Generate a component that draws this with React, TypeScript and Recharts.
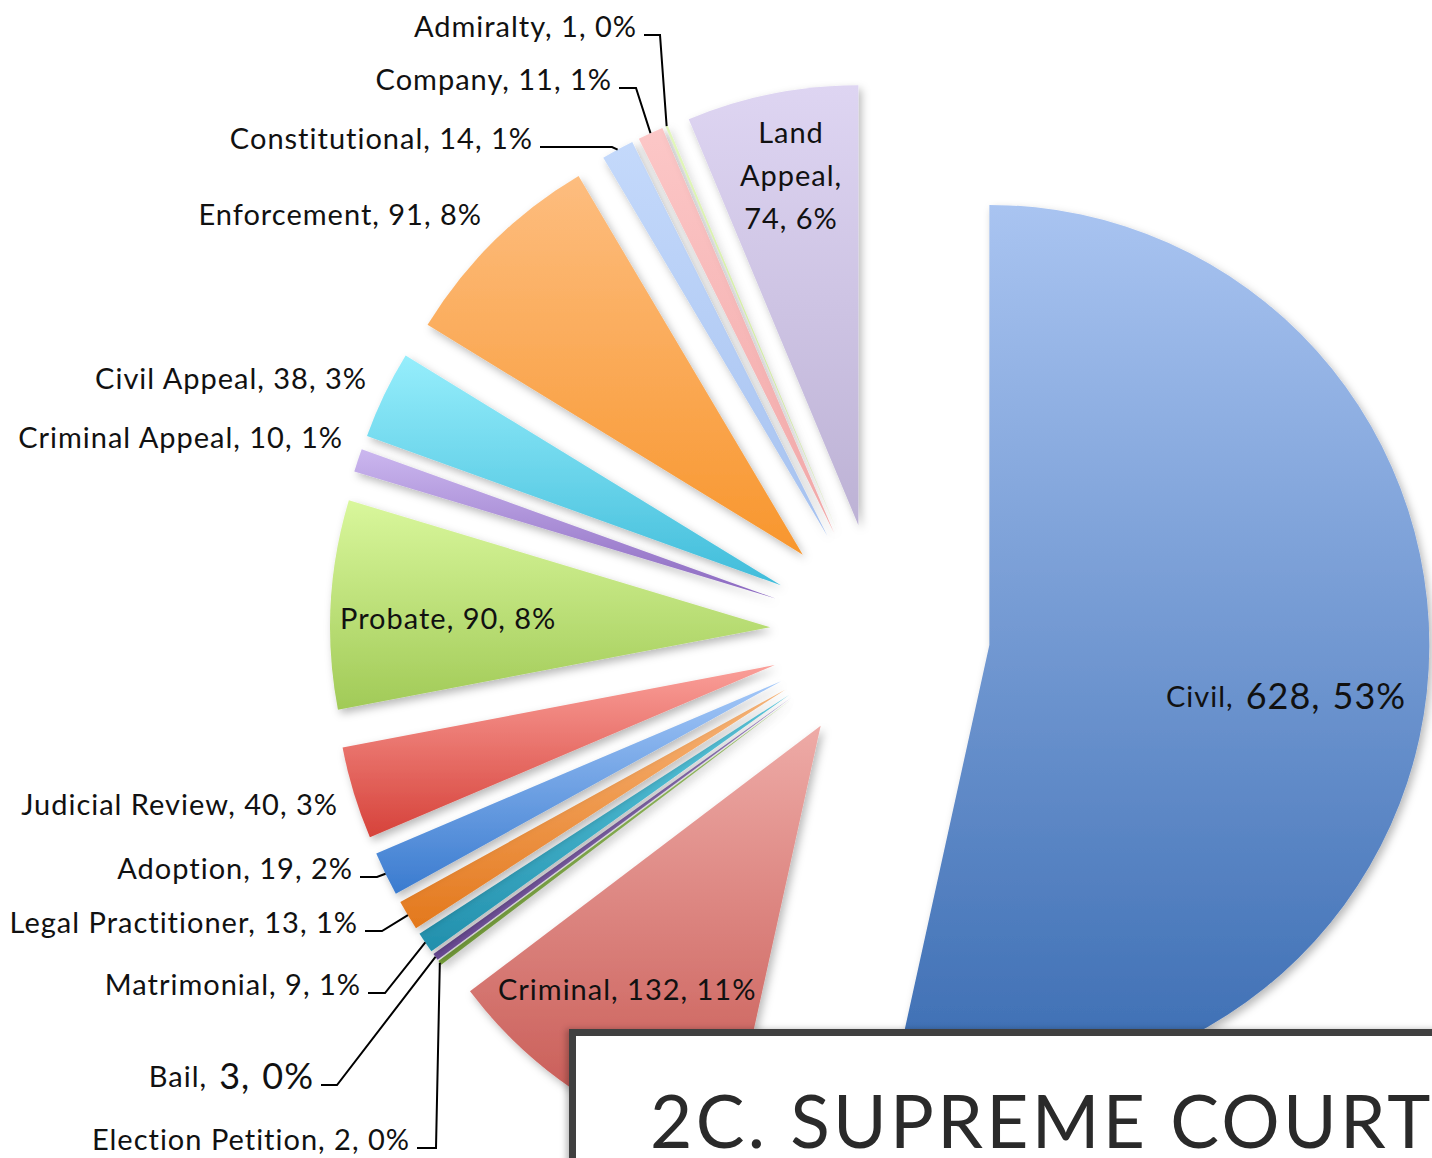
import React from 'react';
import { PieChart, Pie, Cell } from 'recharts';

// ---- data ----
const CATEGORIES = [
  'Civil', 'Criminal', 'Election Petition', 'Bail', 'Matrimonial', 'Legal Practitioner',
  'Adoption', 'Judicial Review', 'Probate', 'Criminal Appeal', 'Civil Appeal',
  'Enforcement', 'Constitutional', 'Company', 'Admiralty', 'Land Appeal',
];
const CASES = [628, 132, 2, 3, 9, 13, 19, 40, 90, 10, 38, 91, 14, 11, 1, 74];
const TITLE = '2C. SUPREME COURT';

// ---- styles ----
const GRADIENTS: [string, string][] = [
  ['#a9c4f1', '#3a6cb2'], // Civil
  ['#eeaba7', '#c4524c'], // Criminal
  ['#a9d66e', '#7ba73d'], // Election Petition
  ['#9c7fc6', '#6b4b97'], // Bail
  ['#5fcce1', '#218fac'], // Matrimonial
  ['#f9b67a', '#e3781c'], // Legal Practitioner
  ['#a3c7f8', '#3a7bcf'], // Adoption
  ['#fa9f99', '#d6423a'], // Judicial Review
  ['#d9f79c', '#a1ca57'], // Probate
  ['#cbb7ef', '#8a67bf'], // Criminal Appeal
  ['#96eefc', '#40bcda'], // Civil Appeal
  ['#fdbd7f', '#f8962d'], // Enforcement
  ['#c4d9fb', '#a6c2f0'], // Constitutional
  ['#fcc7c7', '#f2a8a8'], // Company
  ['#e2f7bb', '#c6e68c'], // Admiralty
  ['#ded5f2', '#bdb2d5'], // Land Appeal
];

type Layout = {
  x: number; y: number; anchor: 'start' | 'middle' | 'end';
  elbow?: number; lines?: string[]; big?: boolean;
};
const LABEL_LAYOUT: Record<string, Layout> = {
  'Civil': { x: 1166, y: 695, anchor: 'start', big: true },
  'Criminal': { x: 498, y: 988, anchor: 'start' },
  'Election Petition': { x: 410, y: 1138, anchor: 'end', elbow: 436 },
  'Bail': { x: 314, y: 1075, anchor: 'end', elbow: 337, big: true },
  'Matrimonial': { x: 361, y: 983, anchor: 'end', elbow: 385 },
  'Legal Practitioner': { x: 358, y: 921, anchor: 'end', elbow: 382 },
  'Adoption': { x: 353, y: 867, anchor: 'end', elbow: 377 },
  'Judicial Review': { x: 338, y: 803, anchor: 'end' },
  'Probate': { x: 340, y: 617, anchor: 'start' },
  'Criminal Appeal': { x: 343, y: 436, anchor: 'end' },
  'Civil Appeal': { x: 367, y: 377, anchor: 'end' },
  'Enforcement': { x: 482, y: 213, anchor: 'end' },
  'Constitutional': { x: 533, y: 137, anchor: 'end', elbow: 612 },
  'Company': { x: 612, y: 78, anchor: 'end', elbow: 636 },
  'Admiralty': { x: 637, y: 25, anchor: 'end', elbow: 660 },
  'Land Appeal': { x: 791, y: 131, anchor: 'middle', lines: ['Land', 'Appeal,'] },
};

const W = 1432;
const H = 1158;
const CX = 880;
const CY = 633;
const R = 440;
const EXPLODE = 110;
const FONT = 'Lato, "Noto Sans", sans-serif';
const FS = 29;
const LS = 1;
const RAD = Math.PI / 180;

const ROWS = CATEGORIES.map((name, i) => ({ name, value: CASES[i] }));
const TOTAL = CASES.reduce((a, b) => a + b, 0);
// clockwise angle (deg from 12 o'clock) of each slice's middle
const MIDS: number[] = (() => {
  let acc = 0;
  return CASES.map((v) => {
    const m = ((acc + v / 2) / TOTAL) * 360;
    acc += v;
    return m;
  });
})();

const makeLabel = (k: number) => (props: any) => {
  if (props.index !== k) return null;
  const name = CATEGORIES[k];
  const L = LABEL_LAYOUT[name];
  const pct = Math.round(props.percent * 100);
  const value = props.value;
  const px = props.cx + props.outerRadius * Math.cos(-props.midAngle * RAD);
  const py = props.cy + props.outerRadius * Math.sin(-props.midAngle * RAD);
  const common = {
    fontFamily: FONT,
    fontSize: FS,
    letterSpacing: LS,
    fill: '#111',
    textAnchor: L.anchor,
    dominantBaseline: 'central' as const,
  };
  let textEl: React.ReactNode;
  if (L.lines) {
    const all = [...L.lines, `${value}, ${pct}%`];
    textEl = all.map((t, i) => (
      <text key={i} x={L.x} y={L.y + i * 43} {...common}>{t}</text>
    ));
  } else if (L.big) {
    textEl = (
      <text x={L.x} y={L.y} {...common}>
        <tspan>{name},</tspan>
        <tspan fontSize={36} dx={12}>{value},</tspan>
        <tspan fontSize={36} dx={12}>{pct}%</tspan>
      </text>
    );
  } else {
    textEl = <text x={L.x} y={L.y} {...common}>{`${name}, ${value}, ${pct}%`}</text>;
  }
  const ly = L.y + 10;
  return (
    <g>
      {textEl}
      {L.elbow !== undefined && (
        <path
          d={`M${L.x + 7},${ly}H${L.elbow}L${px},${py}`}
          stroke="#000"
          strokeWidth={2}
          fill="none"
        />
      )}
    </g>
  );
};

export default function App() {
  return (
    <div
      style={{
        position: 'absolute', left: 0, top: 0, width: W, height: H,
        overflow: 'hidden', background: '#fff',
      }}
    >
      <svg width={0} height={0} style={{ position: 'absolute' }}>
        <defs>
          {GRADIENTS.map(([a, b], i) => (
            <linearGradient key={i} id={`grad${i}`} x1="0" y1="0" x2="0" y2="1">
              <stop offset="0%" stopColor={a} />
              <stop offset="100%" stopColor={b} />
            </linearGradient>
          ))}
          <filter id="shadow" x="-20%" y="-20%" width="140%" height="140%">
            <feDropShadow dx={3} dy={4} stdDeviation={4} floodColor="#000" floodOpacity={0.28} />
          </filter>
        </defs>
      </svg>
      <PieChart width={W} height={H} margin={{ top: 0, right: 0, bottom: 0, left: 0 }}>
        {ROWS.map((_, k) => (
          <Pie
            key={k}
            data={ROWS}
            dataKey="value"
            nameKey="name"
            cx={CX + EXPLODE * Math.sin(MIDS[k] * RAD)}
            cy={CY - EXPLODE * Math.cos(MIDS[k] * RAD)}
            innerRadius={0}
            outerRadius={R}
            startAngle={90}
            endAngle={-270}
            stroke="none"
            isAnimationActive={false}
            labelLine={false}
            label={makeLabel(k)}
          >
            {ROWS.map((_, i) => (
              <Cell
                key={i}
                fill={i === k ? `url(#grad${i})` : 'none'}
                stroke="none"
                filter={i === k ? 'url(#shadow)' : undefined}
              />
            ))}
          </Pie>
        ))}
      </PieChart>
      <div
        style={{
          position: 'absolute', left: 569, top: 1029, width: 1000, height: 300,
          border: '7px solid #404040', background: '#fff', boxSizing: 'border-box',
          boxShadow: '-3px 0 6px rgba(0,0,0,0.25)',
        }}
      />
      <div
        style={{
          position: 'absolute', left: 650, top: 1083, whiteSpace: 'nowrap',
          fontFamily: FONT, fontSize: 73, fontWeight: 400, color: '#2a2a2a',
          letterSpacing: 3.3, lineHeight: '74px',
        }}
      >
        {TITLE}
      </div>
    </div>
  );
}
